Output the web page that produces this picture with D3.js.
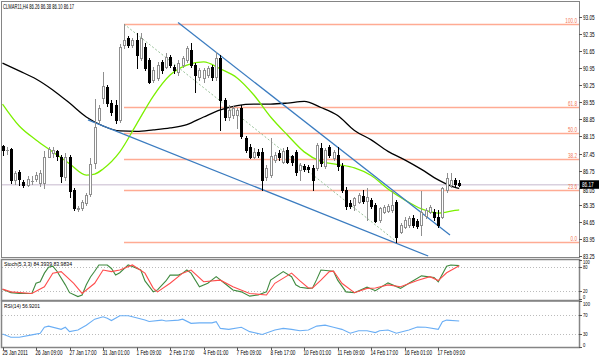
<!DOCTYPE html>
<html><head><meta charset="utf-8">
<script src="https://cdn.jsdelivr.net/npm/d3@7/dist/d3.min.js"></script>
<style>body{margin:0;background:#fff}svg{display:block}text{font-family:"Liberation Sans",Arial,sans-serif}</style>
</head><body><svg id="c" width="600" height="357"></svg>
<script>
// ---- data ----
const opens=[87.74,87.58,87.62,86.37,86.70,86.30,86.16,86.32,86.40,86.24,86.24,87.32,87.48,87.55,87.30,86.50,87.31,85.96,85.18,85.20,85.42,85.80,87.06,88.83,89.73,90.20,89.52,89.44,88.83,91.90,92.19,91.90,92.11,91.37,91.83,91.29,90.47,90.55,91.22,91.01,91.42,91.01,90.80,91.08,91.29,91.70,91.08,90.60,90.55,90.67,91.01,90.60,91.37,89.65,88.95,89.03,89.03,89.32,88.09,87.72,87.31,87.51,87.51,86.50,86.57,87.19,87.47,87.12,87.60,87.33,87.51,86.78,86.94,86.90,86.86,86.86,87.68,86.92,87.72,87.27,87.39,86.94,85.96,85.42,85.34,85.46,85.71,85.50,85.55,85.34,84.73,85.05,85.09,85.14,85.46,84.24,84.44,84.52,84.81,84.69,84.52,84.87,85.05,85.05,84.85,84.85,85.96,86.16,86.37,86.26];
const highs=[87.80,87.70,87.68,86.75,86.78,86.37,86.52,86.52,86.70,86.78,87.56,87.72,87.72,87.60,87.40,87.47,87.40,86.04,85.28,85.55,85.83,87.27,89.69,89.44,90.81,90.26,89.65,89.65,91.95,92.76,92.27,92.19,92.40,92.40,91.98,91.37,91.00,91.21,91.29,91.57,91.49,91.08,91.29,91.45,91.86,91.98,91.16,90.96,90.96,91.04,91.08,91.63,91.49,89.73,89.44,89.40,89.32,89.44,88.17,87.84,87.68,87.64,87.68,86.98,88.09,87.51,87.60,87.68,87.72,87.39,87.60,87.06,87.02,86.98,86.98,87.88,87.88,87.68,87.80,87.60,87.72,87.06,86.06,85.55,85.67,85.83,85.96,86.04,85.63,85.42,85.26,85.34,85.38,85.96,85.55,84.60,84.85,84.89,84.93,84.77,85.93,85.22,85.34,85.18,85.14,86.08,86.65,86.65,86.45,86.38];
const lows=[87.40,87.45,86.24,86.22,86.16,86.08,86.12,86.20,86.32,86.10,86.04,87.30,87.30,87.20,86.28,86.37,85.67,85.14,85.10,85.14,85.34,85.70,86.86,88.70,89.52,89.40,89.03,88.70,88.75,91.78,91.82,91.82,90.96,91.29,90.88,90.34,90.39,90.47,90.75,90.96,91.00,90.75,90.67,91.00,91.21,91.00,89.99,90.47,90.39,90.59,90.47,90.47,88.42,88.83,88.83,88.91,88.50,88.09,87.51,87.27,87.27,87.30,85.96,86.37,86.49,87.10,87.19,87.06,87.06,86.98,86.57,86.37,86.74,86.70,85.96,86.78,86.94,86.86,87.31,87.19,86.78,85.87,85.18,85.22,85.14,85.42,85.42,84.73,85.22,84.65,84.65,85.01,85.05,85.05,83.84,84.19,84.40,84.44,84.44,84.40,84.11,84.81,85.01,84.73,84.44,84.80,85.87,86.08,86.12,86.10];
const closes=[87.58,87.60,86.37,86.65,86.40,86.16,86.40,86.34,86.57,86.65,87.31,87.64,87.60,87.36,86.54,87.31,85.93,85.20,85.20,85.48,85.75,87.02,88.55,89.32,90.22,89.51,89.17,88.83,91.83,92.11,91.90,92.11,91.49,92.19,90.96,90.40,90.88,91.08,90.88,91.42,91.08,90.88,91.16,91.37,91.78,91.08,90.67,90.88,90.88,90.96,90.60,91.37,89.65,88.95,89.24,89.32,89.24,88.17,87.60,87.31,87.51,87.40,86.37,86.86,87.35,87.39,87.31,87.56,87.12,87.10,86.70,86.98,86.82,86.80,86.37,87.80,87.06,87.60,87.39,87.51,86.94,85.96,85.30,85.30,85.63,85.75,85.50,85.65,85.30,84.69,85.22,85.26,85.30,85.34,84.03,84.52,84.73,84.81,84.52,84.48,85.07,85.14,85.26,84.85,84.52,86.04,86.45,86.37,86.20,86.17];

const blackMaIdx=[0,4,8,12,16,20,24,28,32,36,40,44,48,52,56,60,64,68,72,76,80,84,88,92,96,100,104,108,109];
const blackMa=[91.16,90.84,90.51,90.06,89.52,88.95,88.58,88.38,88.36,88.42,88.50,88.64,88.95,89.24,89.42,89.48,89.48,89.52,89.59,89.34,89.01,88.40,88.01,87.54,87.19,86.80,86.37,86.06,86.02];
const greenMaIdx=[0,4,8,12,16,20,22,24,28,32,36,40,44,48,52,56,60,64,68,72,76,80,84,88,92,96,100,104,108,109];
const greenMa=[89.48,88.58,88.01,87.52,87.03,86.57,86.61,86.82,87.52,88.66,89.81,90.67,91.08,91.21,90.92,90.55,89.85,88.95,88.21,87.52,87.13,87.00,86.86,86.55,86.00,85.55,85.18,85.01,85.12,85.14];

const fibRatios=[0,23.6,38.2,50.0,61.8,100.0];
const fibHighIdx=29, fibHigh=92.76, fibLowIdx=94, fibLow=83.84;
const upperTrend=[[41.9,92.82],[106.8,84.11]];
const lowerTrend=[[20.4,88.83],[101.6,83.25]];
const lastPrice=86.17;

const priceTicks=[93.05,92.35,91.65,90.95,90.25,89.55,88.85,88.15,87.45,86.75,86.05,85.35,84.65,83.95,83.25];
const dateIdx=[0,8,16,24,32,40,48,56,64,72,80,88,96,104];
const dateLabels=["25 Jan 2011","26 Jan 09:00","27 Jan 17:00","31 Jan 01:00","1 Feb 09:00","2 Feb 17:00","4 Feb 01:00","7 Feb 09:00","8 Feb 17:00","10 Feb 01:00","11 Feb 09:00","14 Feb 17:00","16 Feb 01:00","17 Feb 09:00"];

const stochMainIdx=[0,2,4,7,8,9,10,11,12,13,15,16,18,19,20,21,22,23,25,26,27,28,30,31,33,34,36,37,39,40,42,43,44,45,47,49,51,53,55,57,59,61,63,64,67,69,70,71,73,74,75,76,79,80,82,84,87,89,92,95,97,100,103,104,106,107,109];
const stochMain=[24,15,13,13,39,43,65,80,83,70,35,15,5,9,35,55,70,86,86,77,60,66,86,82,73,45,17,22,45,60,60,65,73,65,30,39,56,39,22,17,6,9,17,47,69,56,35,29,26,27,49,73,70,47,17,15,29,20,40,26,39,58,54,43,83,86,84.39];
const stochSigIdx=[0,2,7,10,12,14,17,19,22,24,26,28,31,34,36,37,40,43,45,48,52,55,59,63,65,69,71,73,74,76,78,79,81,84,87,89,92,95,99,102,104,106,109];
const stochSig=[24,17,13,30,65,69,39,13,39,73,69,73,86,65,26,17,39,65,73,43,47,30,13,9,39,65,45,27,27,47,69,70,39,15,26,27,35,30,46,56,46,66,83.98];
const stochLevels=[80,20], stochTicks=[100,80,20,0];
const rsiIdx=[0,2,4,7,9,10,11,14,15,16,18,20,22,24,25,26,28,30,31,34,35,38,39,42,43,45,47,50,51,52,54,57,59,62,65,67,69,71,73,75,77,79,81,83,85,87,89,90,92,94,97,99,101,104,105,106,109];
const rsi=[29,22,22,27,30.5,43.5,46,39,43.5,34,37.6,48,61,66,63,58,68.5,68.5,66,59,56,59,57,59,61,52,53,53,55.6,41,39,43.5,34,28,37.6,41,39,36,37.6,46,48,43.5,39,30.5,36,36,32,36,37.6,30.5,37.6,44,43.5,39,55.6,59,56.92];
const rsiLevels=[70,30], rsiTicks=[100,70,30,0];

const titleText="CLMAR11,H4 86.26 86.38 86.10 86.17";
const stochText="Stoch(5,3,3) 84.3939 83.9834";
const rsiText="RSI(14) 56.9201";

// ---- drawing ----
const svg=d3.select('#c');
svg.append('rect').attr('width',600).attr('height',357).attr('fill','#fff');
const L=2,R=579;
const x=d3.scaleLinear().domain([0,109]).range([2.5,459.2]);
const y=d3.scaleLinear().domain([83.25,93.05]).range([256,17]);
const ys=d3.scaleLinear().domain([0,100]).range([298.5,259.5]);
const yr=d3.scaleLinear().domain([0,100]).range([347.4,301.1]);
const SX=0.72, FS=6.5;

const defs=svg.append('defs');
function clip(id,x0,y0,x1,y1){defs.append('clipPath').attr('id',id).append('rect').attr('x',x0).attr('y',y0).attr('width',x1-x0).attr('height',y1-y0);}
clip('cm',L,2,R,257.5);clip('cs',L,260,R,300);clip('cr',L,301.5,R,347);

function txt(g,xx,yy,s,opt={}){
  return g.append('text').attr('transform',`translate(${xx},${yy}) scale(${opt.sx||SX},1)`)
   .attr('font-size',opt.fs||FS).attr('fill',opt.fill||'#000').attr('text-anchor',opt.anchor||'start').text(s);
}
// keep panel labels inside their panel, as the reference does
const inside=(yy,top,bot)=>Math.min(Math.max(yy+1.8,top+4.6),bot-0.5);

// main panel
const gm=svg.append('g').attr('clip-path','url(#cm)');
gm.append('line').attr('x1',L).attr('x2',R).attr('y1',y(lastPrice)).attr('y2',y(lastPrice)).attr('stroke','#d9d0de').attr('stroke-width',1.5);
const fibPrice=r=>fibLow+(fibHigh-fibLow)*r/100;
fibRatios.forEach(r=>{
  const yy=Math.round(y(fibPrice(r)))+0.5;
  gm.append('line').attr('x1',x(fibHighIdx)).attr('x2',R).attr('y1',yy).attr('y2',yy).attr('stroke','#ffab93').attr('stroke-width',1.3);
});
gm.append('line').attr('x1',x(fibHighIdx)).attr('y1',y(fibHigh)).attr('x2',x(fibLowIdx)).attr('y2',y(fibLow))
  .attr('stroke','#98c098').attr('stroke-width',1).attr('stroke-dasharray','2,2');
const maLine=d3.line().curve(d3.curveMonotoneX);
gm.append('path').attr('d',maLine(blackMaIdx.map((d,k)=>[x(d),y(blackMa[k])]))).attr('fill','none').attr('stroke','#000').attr('stroke-width',1.3);
gm.append('path').attr('d',maLine(greenMaIdx.map((d,k)=>[x(d),y(greenMa[k])]))).attr('fill','none').attr('stroke','#7cf000').attr('stroke-width',1.3);
[upperTrend,lowerTrend].forEach(t=>{
  gm.append('line').attr('x1',x(t[0][0])).attr('y1',y(t[0][1])).attr('x2',x(t[1][0])).attr('y2',y(t[1][1]))
   .attr('stroke','#3b7cc0').attr('stroke-width',1.3);
});
closes.forEach((c,i)=>{
  const o=opens[i],h=highs[i],l=lows[i];
  const px=Math.round(x(i));
  const bull=c>=o;
  const col=bull?'#8f8f8f':'#000';
  gm.append('line').attr('x1',px+0.5).attr('x2',px+0.5).attr('y1',Math.round(y(h))).attr('y2',Math.round(y(l))+1).attr('stroke',col).attr('stroke-width',1);
  const t=Math.round(y(Math.max(o,c))),b=Math.round(y(Math.min(o,c)));
  if(b-t<1){
    gm.append('line').attr('x1',px-1).attr('x2',px+2).attr('y1',t+0.5).attr('y2',t+0.5).attr('stroke',col);
  }else{
    gm.append('rect').attr('x',px-0.5).attr('y',t+0.5).attr('width',2).attr('height',b-t)
      .attr('fill',bull?'#fff':'#000').attr('stroke',col).attr('stroke-width',1);
  }
});
fibRatios.forEach(r=>{
  txt(svg,577,Math.round(y(fibPrice(r)))-1,r.toFixed(1),{anchor:'end',fill:'#f27a5a'});
});
svg.append('text').attr('x',3).attr('y',9).attr('font-size',7).attr('textLength',71).attr('lengthAdjust','spacingAndGlyphs').text(titleText);

// stoch panel
const gs=svg.append('g').attr('clip-path','url(#cs)');
stochLevels.forEach(v=>gs.append('line').attr('x1',L).attr('x2',R).attr('y1',Math.round(ys(v))+0.5).attr('y2',Math.round(ys(v))+0.5).attr('stroke','#bbb').attr('stroke-dasharray','1,2'));
const ln=d3.line();
gs.append('path').attr('d',ln(stochMainIdx.map((d,k)=>[x(d),ys(stochMain[k])]))).attr('fill','none').attr('stroke','#3f8a3f').attr('stroke-width',1.1);
gs.append('path').attr('d',ln(stochSigIdx.map((d,k)=>[x(d),ys(stochSig[k])]))).attr('fill','none').attr('stroke','#ff4d4d').attr('stroke-width',1.1);
svg.append('text').attr('x',4).attr('y',265.5).attr('font-size',6).attr('textLength',68).attr('lengthAdjust','spacingAndGlyphs').text(stochText);

// rsi panel
const gr=svg.append('g').attr('clip-path','url(#cr)');
rsiLevels.forEach(v=>gr.append('line').attr('x1',L).attr('x2',R).attr('y1',Math.round(yr(v))+0.5).attr('y2',Math.round(yr(v))+0.5).attr('stroke','#bbb').attr('stroke-dasharray','1,2'));
gr.append('path').attr('d',ln(rsiIdx.map((d,k)=>[x(d),yr(rsi[k])]))).attr('fill','none').attr('stroke','#6aaef5').attr('stroke-width',1.1);
svg.append('text').attr('x',4).attr('y',307.5).attr('font-size',6).attr('textLength',36).attr('lengthAdjust','spacingAndGlyphs').text(rsiText);

// frames
const fr=svg.append('g').attr('fill','none').attr('stroke','#858585');
fr.append('rect').attr('x',1.5).attr('y',1.5).attr('width',R-1).attr('height',256).attr('stroke-width',1);
fr.append('rect').attr('x',1.5).attr('y',259.5).attr('width',R-1).attr('height',41).attr('stroke-width',1.5);
fr.append('rect').attr('x',1.5).attr('y',301).attr('width',R-1).attr('height',46.5).attr('stroke-width',1.5);

// right axes
priceTicks.forEach(p=>{
  const yy=Math.round(y(p))+0.5;
  svg.append('line').attr('x1',R).attr('x2',R+3).attr('y1',yy).attr('y2',yy).attr('stroke','#555');
  if(Math.abs(p-lastPrice)>0.25) txt(svg,583,yy+2.3,p.toFixed(2));
  else txt(svg,583,yy+4.5,p.toFixed(2));
});
const ly=y(lastPrice);
svg.append('rect').attr('x',580).attr('y',ly-4.5).attr('width',19).attr('height',8.5).attr('fill','#000');
txt(svg,582,ly+2.3,lastPrice.toFixed(2),{fill:'#fff'});
stochTicks.forEach(v=>{const yy=Math.round(ys(v))+0.5;
  svg.append('line').attr('x1',R).attr('x2',R+3).attr('y1',yy).attr('y2',yy).attr('stroke','#555');
  txt(svg,583,inside(yy,259.5,299),String(v),{fs:5.6});});
rsiTicks.forEach(v=>{const yy=Math.round(yr(v))+0.5;
  svg.append('line').attr('x1',R).attr('x2',R+3).attr('y1',yy).attr('y2',yy).attr('stroke','#555');
  txt(svg,583,inside(yy,301.5,347),String(v),{fs:5.8});});

// time axis
dateIdx.forEach((d,k)=>{
  const xx=Math.round(x(d))+0.5;
  svg.append('line').attr('x1',xx).attr('x2',xx).attr('y1',347.5).attr('y2',350).attr('stroke','#555');
  txt(svg,xx-1,355,dateLabels[k]);
});
</script></body></html>
